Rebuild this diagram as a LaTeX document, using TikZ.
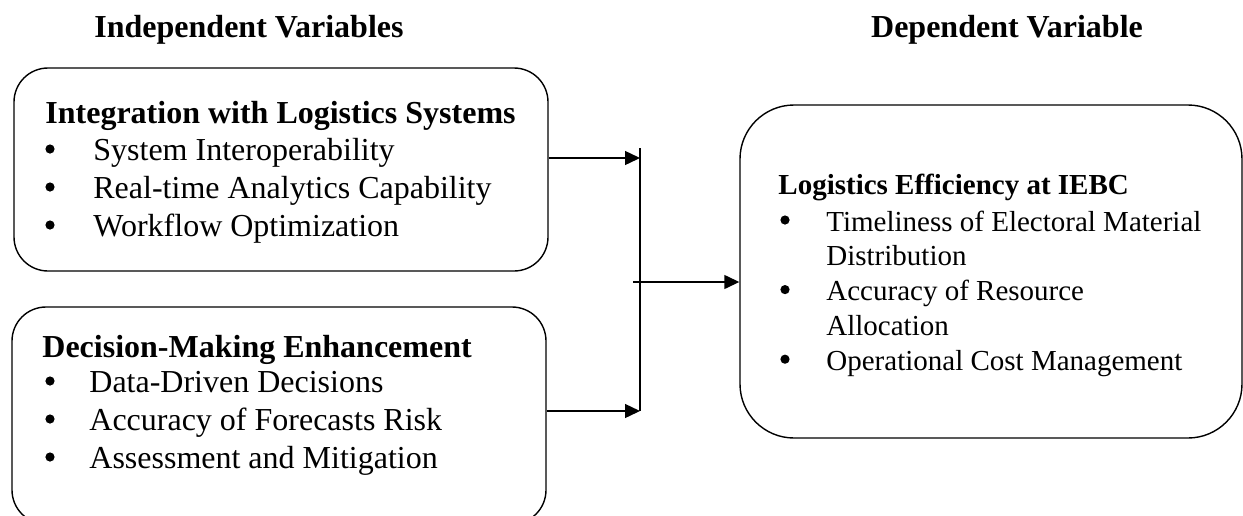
\documentclass[tikz,border=0pt]{standalone}
\usepackage{fontspec}
\setmainfont{Liberation Serif}
\usetikzlibrary{arrows.meta, positioning}

\newcommand{\bulletdot}{\tikz[baseline=0pt]\fill (0,5.5pt) circle (2.3pt);}

\begin{document}
\begin{tikzpicture}[
        x=0.5pt, y=-0.5pt,
        varbox/.style={draw, line width=0.7pt, inner sep=0pt, rounded corners=17pt},
        heading/.style={inner sep=0pt, font=\bfseries\fontsize{16}{19}\selectfont},
        boxtitle/.style={inner sep=0pt, anchor=base west, font=\bfseries\fontsize{16}{19}\selectfont},
        itemlist/.style={inner sep=0pt, anchor=base west, align=left, font=\fontsize{16}{19}\selectfont},
        flow/.style={line width=0.7pt, -{Triangle[length=7.5pt, width=7pt]}},
        link/.style={line width=0.7pt}
    ]
        \useasboundingbox (0,0) rectangle (1243,515);

        % column headings
        \node[heading, anchor=base] (indep) at (249,37) {Independent Variables};
        \node[heading, anchor=base] (dep) at (1007,37) {Dependent Variable};

        % independent variables
        \node[varbox, minimum width=267pt, minimum height=101.5pt] (intbox) at (281,169.5) {};
        \node[boxtitle] (inttitle) at (45,123) {Integration with Logistics Systems};
        \node[itemlist] (intlist) at (45,160) {%
            \begin{tabular}[t]{@{}p{24pt}@{}l@{}}
                \bulletdot & System Interoperability\\
                \bulletdot & Real-time Analytics Capability\\
                \bulletdot & Workflow Optimization
            \end{tabular}};

        \node[varbox, minimum width=267pt, minimum height=108.5pt] (decbox) at (279,415.5) {};
        \node[boxtitle] (dectitle) at (42,357) {Decision-Making Enhancement};
        \node[itemlist] (declist) at (45,392) {%
            \begin{tabular}[t]{@{}p{22pt}@{}l@{}}
                \bulletdot & Data-Driven Decisions\\
                \bulletdot & Accuracy of Forecasts Risk\\
                \bulletdot & Assessment and Mitigation
            \end{tabular}};

        % dependent variable
        \node[varbox, rounded corners=27pt, minimum width=251pt, minimum height=166.5pt] (depbox) at (991,271.5) {};
        \node[boxtitle, font=\bfseries\fontsize{14.5}{17.4}\selectfont] (deptitle) at (778,194) {Logistics Efficiency at IEBC};
        \node[itemlist, font=\fontsize{14.5}{17.4}\selectfont] (deplist) at (780,231) {%
            \begin{tabular}[t]{@{}p{23pt}@{}l@{}}
                \bulletdot & Timeliness of Electoral Material\\
                & Distribution\\
                \bulletdot & Accuracy of Resource\\
                & Allocation\\
                \bulletdot & Operational Cost Management
            \end{tabular}};

        % connectors
        \coordinate (jtop) at (640,148);
        \coordinate (in1) at (640,158);
        \coordinate (in2) at (640,411);
        \coordinate (out) at (633,282);

        \draw[flow] (intbox.east |- in1) -- (in1);
        \draw[flow] (decbox.east |- in2) -- (in2);
        \draw[link] (jtop) -- (in2);
        \draw[flow] (out) -- (depbox.west |- out);
    \end{tikzpicture}
\end{document}
